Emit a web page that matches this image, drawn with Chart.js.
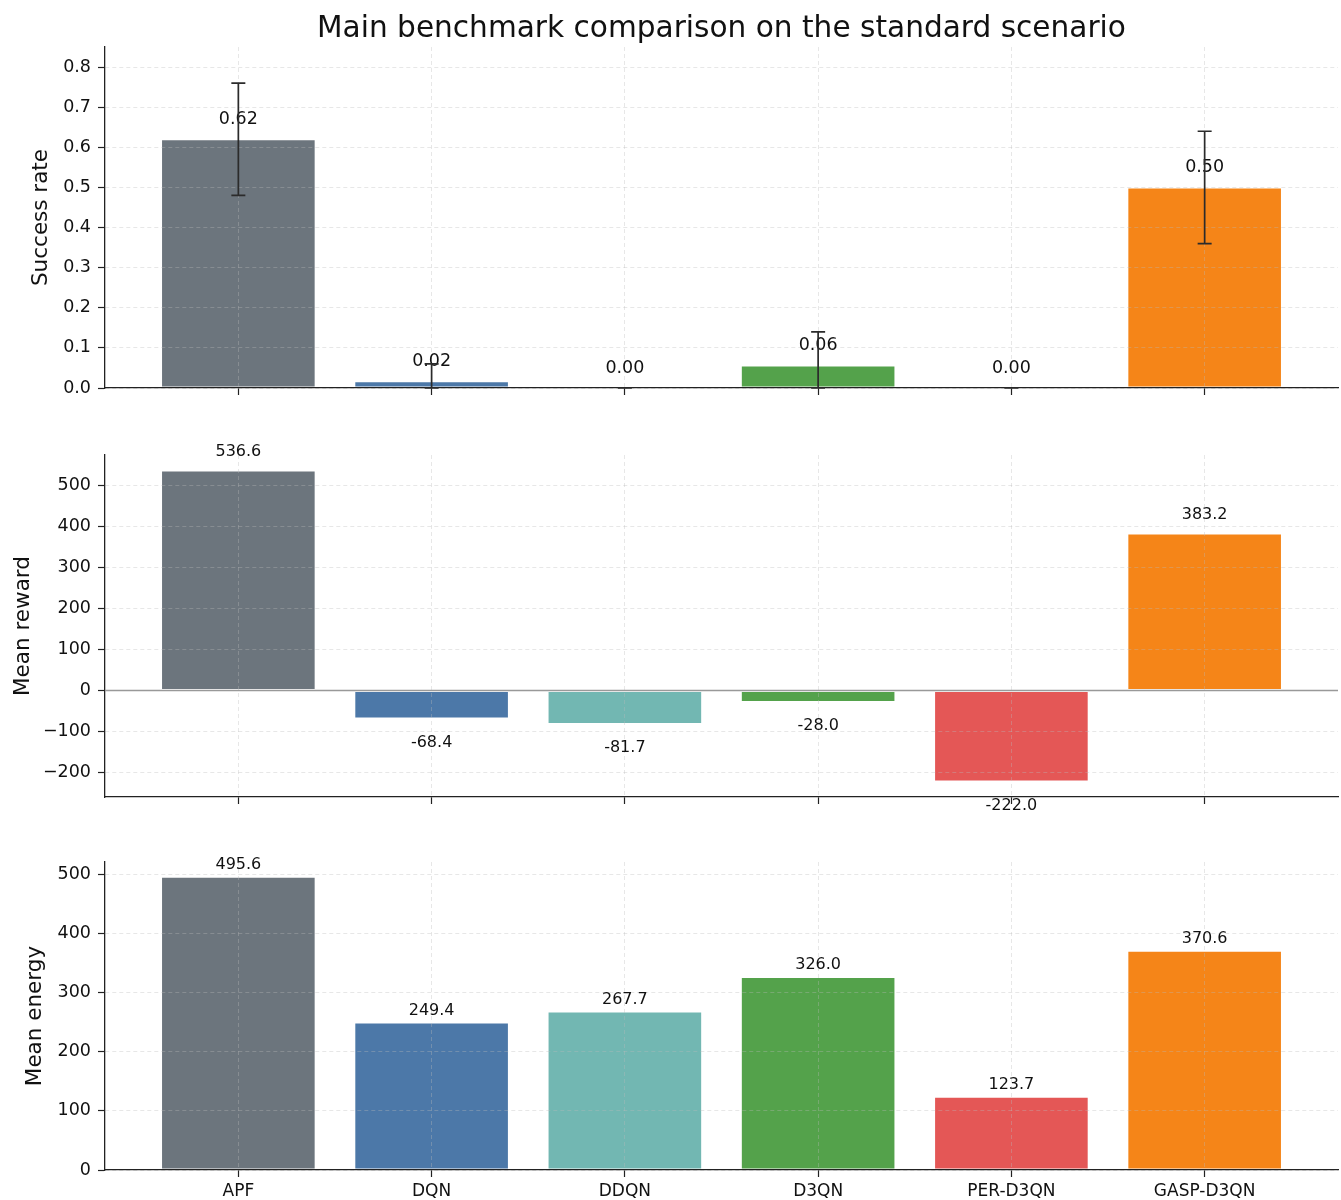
<!DOCTYPE html>
<html>
<head>
<meta charset="utf-8">
<script src="https://cdn.jsdelivr.net/npm/chart.js@4.4.1/dist/chart.umd.min.js"></script>
<style>
  html, body { margin: 0; padding: 0; background: #fff; }
  #page { position: relative; width: 1341px; height: 1200px; overflow: hidden; font-family: "DejaVu Sans", sans-serif; }
  #page canvas { position: absolute; left: 0; }
  #title { position: absolute; left: 105px; width: 1233px; top: 10px; text-align: center;
           font-size: 29.6px; line-height: 34px; color: #111; z-index: 2; }
</style>
</head>
<body>
<div id="page">
  <div id="title">Main benchmark comparison on the standard scenario</div>
  <canvas id="c-success" width="1341" height="420" style="top:0"></canvas>
  <canvas id="c-reward" width="1341" height="400" style="top:420px"></canvas>
  <canvas id="c-energy" width="1341" height="380" style="top:820px"></canvas>
</div>
<script>
/* ---------- data ---------- */
const METHODS = ['APF', 'DQN', 'DDQN', 'D3QN', 'PER-D3QN', 'GASP-D3QN'];
const BAR_COLORS = ['#6c757d', '#4c78a8', '#72b7b2', '#54a24b', '#e45756', '#f58518'];

const SUCCESS_RATE = [0.62, 0.017, 0.0, 0.056, 0.0, 0.50];
const SUCCESS_LOW  = [0.48, 0.0, 0.0, 0.0, 0.0, 0.36];
const SUCCESS_HIGH = [0.76, 0.06, 0.0, 0.14, 0.0, 0.64];

const MEAN_REWARD = [536.6, -68.4, -81.7, -28.0, -222.0, 383.2];
const MEAN_ENERGY = [495.6, 249.4, 267.7, 326.0, 123.7, 370.6];

/* ---------- styling ---------- */
const FONT = '"DejaVu Sans", sans-serif';
const AXIS_COLOR = '#222';
const TEXT_COLOR = '#111';
const GRID_COLOR = 'rgba(185,185,185,0.35)';
const X_MIN = -0.69, X_MAX = 5.69;

function fmtTick(v) {
  return v < 0 ? '\u2212' + Math.abs(v) : String(v);
}

// value labels above / below each bar
function valueLabels(values, digits, fontSize, above, below) {
  return {
    id: 'valueLabels',
    afterDraw(chart) {
      const { ctx, scales: { x, y } } = chart;
      ctx.save();
      ctx.font = fontSize + 'px ' + FONT;
      ctx.fillStyle = TEXT_COLOR;
      ctx.textAlign = 'center';
      ctx.textBaseline = 'middle';
      values.forEach((v, i) => {
        const px = x.getPixelForValue(i);
        const py = y.getPixelForValue(v);
        ctx.fillText(v.toFixed(digits), px, v < 0 ? py + below : py - above);
      });
      ctx.restore();
    }
  };
}

const errorBars = {
  id: 'errorBars',
  afterDraw(chart) {
    const { ctx, scales: { x, y } } = chart;
    ctx.save();
    ctx.strokeStyle = '#2b2b2b';
    ctx.lineWidth = 1.7;
    SUCCESS_RATE.forEach((_, i) => {
      const px = x.getPixelForValue(i);
      const lo = y.getPixelForValue(SUCCESS_LOW[i]);
      const hi = y.getPixelForValue(SUCCESS_HIGH[i]);
      ctx.beginPath();
      ctx.moveTo(px, lo); ctx.lineTo(px, hi);
      ctx.moveTo(px - 7, lo); ctx.lineTo(px + 7, lo);
      ctx.moveTo(px - 7, hi); ctx.lineTo(px + 7, hi);
      ctx.stroke();
    });
    ctx.restore();
  }
};

const zeroLine = {
  id: 'zeroLine',
  afterDraw(chart) {
    const { ctx, chartArea, scales: { y } } = chart;
    const py = Math.round(y.getPixelForValue(0)) + 0.5;
    ctx.save();
    ctx.strokeStyle = '#999';
    ctx.lineWidth = 1.3;
    ctx.beginPath();
    ctx.moveTo(chartArea.left, py);
    ctx.lineTo(chartArea.right, py);
    ctx.stroke();
    ctx.restore();
  }
};

function makePanel(id, cfg) {
  const ctx = document.getElementById(id).getContext('2d');
  return new Chart(ctx, {
    type: 'bar',
    data: {
      datasets: [{
        data: cfg.values.map((v, i) => ({ x: i, y: v })),
        backgroundColor: BAR_COLORS,
        borderColor: 'rgba(255,255,255,0.75)',
        borderWidth: 1,
        borderSkipped: false,
        categoryPercentage: 1.0,
        barPercentage: 0.8
      }]
    },
    options: {
      responsive: false,
      animation: false,
      devicePixelRatio: 1,
      layout: { padding: { top: cfg.padTop, right: 3, left: 0, bottom: 0 } },
      plugins: { legend: { display: false }, tooltip: { enabled: false } },
      scales: {
        x: {
          type: 'linear',
          offset: false,
          min: X_MIN,
          max: X_MAX,
          afterBuildTicks: axis => { axis.ticks = METHODS.map((_, i) => ({ value: i })); },
          afterFit: s => { s.height = cfg.xHeight; },
          ticks: {
            autoSkip: false, maxRotation: 0, padding: 4, color: TEXT_COLOR,
            font: { family: FONT, size: 17 },
            callback: v => cfg.showX ? METHODS[v] : ''
          },
          grid: { offset: false, color: GRID_COLOR, lineWidth: 1, z: 1, tickColor: AXIS_COLOR, tickLength: 7, tickWidth: 1.2 },
          border: { color: AXIS_COLOR, width: 1.3, dash: [4, 3], z: 2 }
        },
        y: {
          min: cfg.yMin,
          max: cfg.yMax,
          afterFit: s => { s.width = 105; },
          ticks: {
            stepSize: cfg.step, includeBounds: false, padding: 7, color: TEXT_COLOR,
            font: { family: FONT, size: 17.5 },
            callback: cfg.tickFmt
          },
          grid: { color: GRID_COLOR, lineWidth: 1, z: 1, tickColor: AXIS_COLOR, tickLength: 7, tickWidth: 1.2 },
          border: { color: AXIS_COLOR, width: 1.3, dash: [4, 3], z: 2 },
          title: {
            display: true, text: cfg.yTitle, color: TEXT_COLOR,
            font: { family: FONT, size: 21.5 },
            padding: { top: cfg.titlePad, bottom: 0 }
          }
        }
      }
    },
    plugins: cfg.plugins
  });
}

makePanel('c-success', {
  values: SUCCESS_RATE, padTop: 47, xHeight: 32, showX: false,
  yMin: 0, yMax: 0.85, step: 0.1, tickFmt: v => v.toFixed(1),
  yTitle: 'Success rate', titlePad: 29,
  plugins: [valueLabels(SUCCESS_RATE, 2, 17.5, 20, 20), errorBars]
});

makePanel('c-reward', {
  values: MEAN_REWARD, padTop: 35, xHeight: 23, showX: false,
  yMin: -259.9, yMax: 574.5, step: 100, tickFmt: fmtTick,
  yTitle: 'Mean reward', titlePad: 11,
  plugins: [zeroLine, valueLabels(MEAN_REWARD, 1, 16, 19, 24)]
});

makePanel('c-energy', {
  values: MEAN_ENERGY, padTop: 42, xHeight: 30, showX: true,
  yMin: 0, yMax: 520.4, step: 100, tickFmt: fmtTick,
  yTitle: 'Mean energy', titlePad: 23,
  plugins: [valueLabels(MEAN_ENERGY, 1, 16, 12, 12)]
});
</script>
</body>
</html>
